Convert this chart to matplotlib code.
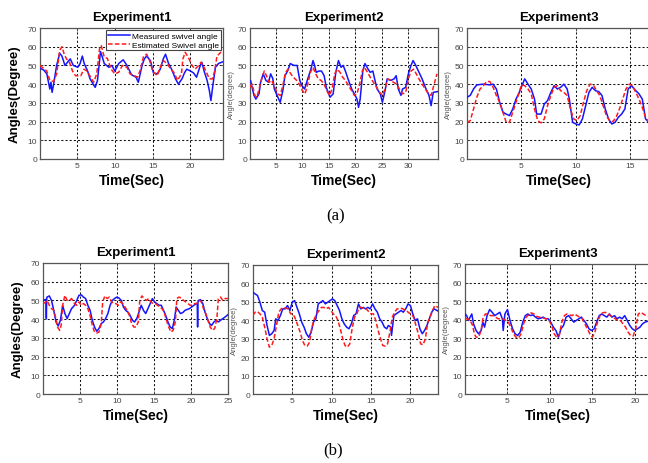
import matplotlib
matplotlib.use('Agg')
import matplotlib.pyplot as plt

# --- DADOS (tempo, ângulo) ---
a1_meas = [(0.1, 48.5), (0.6, 47.5), (1.0, 45.5), (1.4, 37.4), (1.55, 41), (1.7, 35.6), (1.9, 40), (2.3, 50),
           (2.7, 56.5), (3.0, 55), (3.4, 50), (3.8, 52), (4.1, 53.5), (4.5, 50), (5.1, 49), (5.4, 51), (5.7, 55),
           (5.95, 51), (6.4, 47), (6.7, 43), (7.2, 39.5), (7.4, 38.3), (7.7, 42), (8.1, 57.4), (8.3, 55), (8.6, 51),
           (9.2, 49), (9.6, 50), (10.0, 47), (10.5, 51), (11.1, 53), (11.6, 50), (12.2, 45), (12.8, 43.7), (13.1, 41),
           (13.6, 50), (13.9, 53.5), (14.2, 55), (14.7, 52.6), (15.1, 46), (15.6, 45.5), (16.0, 48), (16.4, 53.5),
           (16.7, 56), (17.1, 51), (17.5, 48), (18.0, 43), (18.4, 40), (18.9, 43), (19.2, 46), (19.5, 48), (20.0, 47),
           (20.4, 46), (20.8, 43.7), (21.3, 50), (21.5, 51.7), (21.8, 47), (22.2, 42), (22.5, 36.5), (22.7, 31.2),
           (22.95, 39), (23.3, 49), (23.7, 51), (24.3, 52)]
a1_est = [(0.1, 50), (1.0, 47), (1.4, 42), (1.9, 41.4), (2.3, 45.5), (2.7, 58), (3.0, 60), (3.3, 56), (3.6, 53.5),
          (4.0, 51.7), (4.4, 47), (4.8, 44.5), (5.5, 44.5), (5.9, 48), (6.3, 47), (6.8, 43.7), (7.2, 41), (7.6, 45.5),
          (8.0, 59.7), (8.2, 60.6), (8.6, 54.4), (9.0, 53.8), (9.5, 48), (10.0, 45.5), (10.5, 46.3), (11.0, 50),
          (11.6, 49), (12.0, 45.5), (12.6, 44.5), (13.0, 43.7), (13.4, 48), (13.8, 55), (14.2, 56), (14.6, 52.6),
          (15.0, 47), (15.6, 44.5), (16.0, 49), (16.4, 52.6), (16.9, 51), (17.4, 48), (17.8, 46.3), (18.3, 42),
          (18.8, 45.5), (19.0, 53.5), (19.3, 57), (19.7, 54.4), (20.2, 50), (20.6, 48), (21.1, 50), (21.4, 51.7),
          (21.8, 49), (22.2, 45.5), (22.5, 42.8), (22.9, 42.8), (23.2, 47), (23.5, 55), (24.0, 57), (24.3, 56)]

a2_meas = [(0.0, 41), (0.2, 42), (0.85, 34), (1.2, 32), (1.8, 34.8), (2.1, 41), (2.6, 45.5), (3.1, 42), (3.6, 41),
           (4.0, 45.5), (4.4, 43), (4.7, 37.4), (5.2, 34), (5.8, 30.3), (6.3, 36.5), (6.7, 44.5), (7.2, 47), (7.7, 51),
           (8.4, 50), (9.0, 50), (9.5, 42), (9.9, 39.2), (10.4, 37.4), (11.0, 42.8), (11.6, 48), (12.0, 52.6),
           (12.3, 50), (12.6, 46.3), (13.1, 47), (13.6, 47), (14.1, 44.5), (14.5, 38.3), (15.2, 33), (15.8, 34.8),
           (16.3, 46.3), (16.8, 52.6), (17.3, 49), (17.7, 50), (18.2, 46.3), (18.7, 42), (19.3, 37.4), (19.8, 34.8),
           (20.3, 32), (20.6, 27.6), (20.9, 32), (21.4, 47), (21.8, 51), (22.4, 48), (22.8, 46.3), (23.3, 47),
           (23.7, 42), (24.1, 37.4), (24.7, 34.8), (25.1, 30.3), (25.6, 36.5), (26.0, 42.8), (26.7, 42), (27.3, 42.8),
           (27.7, 44.5), (28.1, 37.4), (28.6, 34), (28.9, 37.4), (29.5, 38.3), (30.0, 45.5), (30.5, 50), (30.9, 52.6),
           (31.4, 50), (31.9, 47), (32.6, 42.8), (33.2, 38.3), (33.9, 34), (34.3, 28.5), (34.7, 35.6), (35.5, 36)]
a2_est = [(0.0, 38.3), (0.5, 40), (1.0, 34), (1.4, 33), (1.9, 38.3), (2.3, 42.8), (2.8, 47), (3.2, 44.5), (3.7, 41),
          (4.2, 42), (4.8, 38.3), (5.3, 34.8), (5.8, 34), (6.3, 39.2), (6.8, 46.3), (7.3, 48), (7.8, 45.5), (8.3, 43.7),
          (8.9, 42), (9.4, 40), (10.0, 36.5), (10.5, 34.8), (11.0, 40), (11.5, 46.3), (12.0, 49), (12.5, 45.5),
          (13.0, 42.8), (13.5, 42), (14.1, 40), (14.6, 36.5), (15.1, 34), (15.6, 37.4), (16.1, 45.5), (16.6, 48),
          (17.1, 46.3), (17.6, 43.7), (18.1, 42), (18.7, 39.2), (19.3, 36.5), (19.8, 34), (20.3, 34.8), (20.8, 40),
          (21.3, 47), (21.7, 49), (22.3, 46.3), (22.8, 43.7), (23.4, 41), (24.0, 38.3), (24.6, 35.6), (25.1, 34),
          (25.6, 37.4), (26.1, 42.8), (26.7, 42), (27.2, 41), (27.8, 40), (28.3, 37.4), (28.9, 34.8), (29.5, 35.6),
          (30.0, 42.8), (30.5, 47), (31.0, 48), (31.5, 45.5), (32.0, 42.8), (32.6, 40), (33.2, 37.4), (33.8, 34.8),
          (34.3, 34), (34.8, 39.2), (35.4, 45.5)]

a3_meas = [(0.0, 33), (0.3, 34), (0.6, 37.4), (0.9, 39.6), (1.5, 40), (2.1, 39.6), (2.4, 40), (2.7, 37.4), (3.0, 30.3),
           (3.3, 25), (3.6, 24), (3.9, 23.2), (4.2, 26.7), (4.5, 32), (4.8, 35.6), (5.1, 40), (5.3, 42.8), (5.6, 40),
           (5.9, 37.4), (6.2, 32), (6.4, 24), (6.8, 24), (7.1, 29.4), (7.4, 31.2), (7.7, 35.6), (8.0, 39.2),
           (8.3, 37.4), (8.6, 38.3), (8.9, 40), (9.2, 37.4), (9.4, 32), (9.7, 19.6), (10.0, 18.7), (10.3, 18.2),
           (10.6, 21.4), (10.9, 28.5), (11.2, 35.6), (11.5, 38.3), (11.8, 36.5), (12.1, 36), (12.4, 33.9), (12.7, 26.7),
           (13.0, 21.4), (13.3, 18.7), (13.6, 19.6), (13.9, 22.3), (14.2, 24), (14.5, 26.7), (14.8, 37.4), (15.1, 39.2),
           (15.5, 36.5), (15.8, 34.8), (16.1, 32), (16.4, 21.4), (16.8, 19)]
a3_est = [(0.0, 19.6), (0.3, 20.5), (0.6, 26.7), (0.9, 33), (1.2, 37.4), (1.5, 39.2), (1.8, 41.4), (2.1, 41.4),
          (2.4, 38.3), (2.7, 33.9), (3.0, 30.3), (3.3, 25), (3.6, 19.6), (3.9, 19.6), (4.2, 25), (4.5, 30.3),
          (4.8, 35.6), (5.0, 39.6), (5.3, 39.2), (5.6, 37.4), (5.9, 34.8), (6.2, 26.7), (6.5, 20.5), (6.8, 19.3),
          (7.1, 21.4), (7.4, 28.5), (7.7, 33.9), (8.0, 38.3), (8.3, 39.2), (8.6, 36.5), (8.9, 35.6), (9.2, 33.9),
          (9.5, 26.7), (9.8, 21.4), (10.1, 20.5), (10.4, 23.2), (10.7, 30.3), (11.0, 36.5), (11.3, 40), (11.6, 39.6),
          (11.9, 36.5), (12.2, 33.9), (12.5, 28.5), (12.8, 23.2), (13.1, 20.5), (13.4, 20), (13.7, 22.3), (14.0, 26.7),
          (14.3, 32), (14.6, 37.4), (14.9, 40), (15.2, 39.2), (15.5, 35.6), (15.8, 32), (16.1, 27.6), (16.4, 22.3),
          (16.8, 19)]

b1_meas = [(0.05, 50), (0.3, 50.4), (0.45, 50.5), (0.5, 40.3), (0.55, 51), (0.6, 51.8), (0.9, 52.4), (1.2, 50),
           (1.5, 44.7), (1.8, 38.5), (2.1, 36.3), (2.4, 39.4), (2.7, 47.4), (3.0, 43), (3.3, 40.3), (3.6, 43),
           (3.9, 45.6), (4.3, 47.4), (4.6, 50), (4.9, 52.7), (5.2, 53), (5.5, 51.8), (5.8, 51), (6.1, 47.4),
           (6.4, 44.7), (6.7, 39.4), (7.0, 35.8), (7.3, 33.5), (7.6, 35), (7.9, 37.6), (8.2, 38.5), (8.5, 40.3),
           (8.8, 43), (9.1, 47.4), (9.4, 50), (9.7, 51), (10.0, 51.8), (10.3, 51.3), (10.6, 50), (10.9, 46.5),
           (11.2, 44.7), (11.5, 43.8), (11.8, 42), (12.1, 39.4), (12.4, 38.5), (12.7, 40.3), (13.0, 43.8), (13.3, 47.4),
           (13.6, 44.7), (13.9, 43), (14.2, 45.6), (14.5, 48.3), (14.8, 51), (15.1, 49.2), (15.4, 48.3), (15.7, 47.4),
           (16.0, 47.4), (16.3, 44.7), (16.6, 42), (16.9, 38.5), (17.2, 35.8), (17.5, 35), (17.8, 40.3), (18.0, 46.5),
           (18.3, 44.7), (18.6, 43), (18.9, 43.5), (19.2, 44.7), (19.5, 45.2), (19.8, 45.6), (20.1, 46.5), (20.4, 47.4),
           (20.7, 48.3), (20.85, 48.5), (20.9, 35.8), (20.95, 49), (21.0, 50), (21.3, 50.4), (21.6, 48.3), (21.9, 43.8),
           (22.2, 40.3), (22.5, 37.6), (22.8, 36.7), (23.1, 38.5), (23.4, 39.4), (23.7, 38.5), (24.0, 39.4),
           (24.3, 40.3), (24.6, 41.1), (25.0, 42.4)]
b1_est = [(0.05, 48.3), (0.3, 48.8), (0.6, 50), (0.9, 47.4), (1.2, 45.6), (1.5, 44.7), (1.8, 40.3), (2.0, 35.8),
          (2.3, 34), (2.5, 36.7), (2.7, 47.4), (3.0, 52.7), (3.3, 50), (3.6, 50), (3.9, 51), (4.3, 48.3), (4.6, 47.4),
          (4.9, 49.2), (5.2, 47.4), (5.5, 48.3), (5.8, 47.4), (6.1, 45.6), (6.4, 42), (6.7, 36.7), (7.0, 33.1),
          (7.3, 32.6), (7.6, 33.1), (7.9, 37.6), (8.1, 49.2), (8.4, 52.4), (8.7, 51), (9.0, 51.8), (9.3, 49.2),
          (9.6, 48.3), (9.9, 48.3), (10.2, 47.4), (10.5, 49.2), (10.8, 48.3), (11.1, 46.5), (11.4, 44.7), (11.7, 42),
          (12.0, 37.6), (12.3, 35.8), (12.6, 35.8), (12.9, 38.5), (13.1, 50), (13.4, 52.4), (13.7, 51), (14.0, 50),
          (14.3, 51), (14.6, 49.2), (14.9, 48.3), (15.2, 48.3), (15.5, 47.4), (15.8, 46.5), (16.1, 45.6), (16.4, 43.8),
          (16.7, 39.4), (17.0, 35.8), (17.3, 33.1), (17.6, 34), (17.9, 38.5), (18.1, 51), (18.4, 51.8), (18.7, 51.3),
          (19.0, 50), (19.3, 49.2), (19.6, 48.3), (19.9, 47.4), (20.2, 47.4), (20.5, 48.3), (20.8, 48.3), (21.1, 50),
          (21.4, 49.2), (21.7, 45.6), (22.0, 43), (22.3, 39.4), (22.6, 35.8), (22.9, 34), (23.2, 35), (23.5, 40.3),
          (23.7, 51), (24.0, 51.8), (24.3, 50), (24.6, 51), (25.0, 51)]

b2_meas = [(0.0, 55.2), (0.3, 54.3), (0.6, 53.4), (0.9, 49.8), (1.2, 45.3), (1.5, 44.4), (1.8, 37.2), (2.1, 31.8),
           (2.4, 32.7), (2.7, 34.5), (2.9, 40.8), (3.2, 39.9), (3.5, 42.6), (3.8, 46.2), (4.1, 46.2), (4.4, 48),
           (4.7, 45.3), (5.0, 49.8), (5.3, 50.7), (5.6, 47), (5.9, 43.5), (6.2, 39), (6.5, 36.3), (6.8, 32.7),
           (7.1, 30.8), (7.4, 33.6), (7.7, 39), (8.0, 40.8), (8.3, 48.9), (8.6, 49.8), (8.9, 50.7), (9.2, 48.9),
           (9.5, 49.8), (9.8, 50.7), (10.1, 51.6), (10.4, 50.7), (10.7, 48), (11.0, 45.3), (11.3, 40.8), (11.6, 38),
           (11.9, 36.3), (12.2, 35.4), (12.5, 38), (12.8, 42.6), (13.1, 43.5), (13.4, 48.9), (13.7, 46.2), (14.0, 47),
           (14.3, 46.2), (14.6, 47), (14.9, 46.2), (15.2, 48.9), (15.5, 46.2), (15.8, 44.4), (16.1, 40.8), (16.4, 39),
           (16.7, 36.3), (17.0, 35.4), (17.2, 37.2), (17.5, 36.3), (17.6, 31.8), (17.9, 42.6), (18.2, 43.5),
           (18.5, 44.4), (18.8, 45.3), (19.1, 44.4), (19.4, 46.2), (19.7, 48.9), (20.0, 48), (20.3, 43.5), (20.6, 39.9),
           (20.9, 40.8), (21.2, 35.4), (21.5, 32.7), (21.8, 34.5), (22.1, 37.2), (22.4, 40.8), (22.7, 44.4),
           (23.0, 46.2), (23.5, 45)]
b2_est = [(0.0, 42.6), (0.3, 44.4), (0.6, 44.7), (0.9, 43.5), (1.2, 41.7), (1.5, 36.3), (1.8, 30), (2.1, 25.4),
          (2.4, 26.3), (2.7, 30), (3.0, 37.2), (3.3, 44.4), (3.6, 46.2), (3.9, 47), (4.2, 46.5), (4.5, 46.2),
          (4.8, 43.5), (5.1, 43.5), (5.4, 40.8), (5.7, 37.2), (6.0, 33.6), (6.3, 29), (6.6, 26.3), (6.9, 26),
          (7.2, 28.1), (7.5, 36.3), (7.8, 40.8), (8.1, 43.5), (8.4, 45.3), (8.7, 47), (9.0, 47), (9.3, 46.2), (9.6, 47),
          (9.9, 45.3), (10.2, 43.5), (10.5, 42.6), (10.8, 39.9), (11.1, 35.4), (11.4, 30), (11.7, 26.3), (12.0, 25.4),
          (12.3, 27.2), (12.6, 35.4), (12.9, 41.7), (13.2, 43.5), (13.5, 47), (13.8, 47), (14.1, 46.2), (14.4, 46.2),
          (14.7, 44.7), (15.0, 43.5), (15.3, 43.5), (15.6, 39.9), (15.9, 34.5), (16.2, 30), (16.5, 26.3), (16.8, 26),
          (17.1, 27.2), (17.4, 33.6), (17.7, 41.7), (18.0, 44.4), (18.3, 46.2), (18.6, 46.2), (18.9, 46.5),
          (19.2, 45.8), (19.5, 45.3), (19.8, 44), (20.1, 43.5), (20.4, 41.7), (20.7, 37.2), (21.0, 32.7), (21.3, 27.2),
          (21.6, 26.7), (21.9, 30), (22.2, 39), (22.5, 41.7), (22.8, 45.3), (23.1, 48), (23.5, 47)]

b3_meas = [(0.0, 43.1), (0.2, 42.2), (0.4, 39.6), (0.6, 41.4), (0.8, 43.1), (1.0, 37.8), (1.3, 34.2), (1.6, 32.4),
           (1.9, 34.2), (2.1, 38.7), (2.3, 36), (2.6, 42.2), (2.9, 45.5), (3.2, 44), (3.5, 42.2), (3.8, 43.1),
           (4.1, 44), (4.4, 40.5), (4.5, 34.2), (4.7, 43.1), (5.0, 45.5), (5.3, 39.6), (5.6, 35.1), (5.9, 32.4),
           (6.2, 31.5), (6.5, 33.3), (6.8, 38.7), (7.1, 42.2), (7.4, 43.1), (7.7, 42.2), (8.0, 42.6), (8.3, 41.4),
           (8.6, 40.5), (8.9, 40.8), (9.2, 41.4), (9.5, 40.5), (9.8, 40.5), (10.1, 38.7), (10.4, 36), (10.7, 34.2),
           (11.0, 30.6), (11.3, 35.1), (11.6, 36.9), (11.9, 41.4), (12.2, 42.2), (12.5, 40.5), (12.8, 38.7),
           (13.1, 39.6), (13.4, 40.5), (13.7, 41.4), (14.0, 39.6), (14.3, 37.8), (14.6, 35.1), (14.9, 34.2),
           (15.2, 35.1), (15.5, 38.7), (15.8, 42.2), (16.1, 43.1), (16.4, 42.2), (16.7, 41.4), (17.0, 43.1),
           (17.3, 41.4), (17.6, 42.2), (17.9, 40.5), (18.2, 41.4), (18.5, 40.5), (18.8, 42.2), (19.1, 39.6),
           (19.4, 36.9), (19.7, 35.1), (20.0, 34.2), (20.3, 35.1), (20.6, 36), (20.9, 37.8), (21.2, 38.7), (21.8, 39.6)]
b3_est = [(0.0, 40.5), (0.3, 40.5), (0.6, 39.6), (0.9, 36.9), (1.1, 32.4), (1.3, 30.6), (1.6, 30.6), (1.9, 34.2),
          (2.1, 40.5), (2.4, 43.1), (2.7, 43.1), (3.0, 42.2), (3.3, 42.2), (3.6, 41.4), (3.9, 40.5), (4.2, 40.5),
          (4.5, 40.5), (4.8, 39.6), (5.1, 38.7), (5.4, 36), (5.7, 32.4), (6.0, 30.6), (6.3, 30.1), (6.6, 32.4),
          (6.9, 37.8), (7.2, 41.4), (7.5, 42.6), (7.8, 43.7), (8.1, 43.1), (8.4, 41.9), (8.7, 41.4), (9.0, 41.4),
          (9.3, 40.8), (9.6, 40.5), (9.9, 39.6), (10.2, 36.9), (10.5, 32.4), (10.8, 30.6), (11.1, 31.5), (11.4, 38.7),
          (11.7, 42.2), (12.0, 43.1), (12.3, 42.6), (12.6, 42.2), (12.9, 43.1), (13.2, 42.2), (13.5, 41.4),
          (13.8, 40.5), (14.1, 37.8), (14.4, 35.1), (14.7, 32.4), (15.0, 30.6), (15.3, 33.3), (15.6, 38.7),
          (15.9, 42.2), (16.2, 43.7), (16.5, 44), (16.8, 43.1), (17.1, 42.2), (17.4, 41.4), (17.7, 40.5), (18.0, 39.6),
          (18.3, 39.6), (18.6, 37.8), (18.9, 36), (19.2, 33.3), (19.5, 31.5), (19.8, 31.2), (20.1, 35.1), (20.4, 43.1),
          (20.7, 44), (21.0, 43.1), (21.3, 42.2), (21.8, 41.9)]

titulos = ['Experiment1', 'Experiment2', 'Experiment3']
rotulo_legenda = ['Measured swivel angle', 'Estimated Swivel angle']
yticks = [0, 10, 20, 30, 40, 50, 60, 70]

# --- FIGURA ---
W, H = 648, 464
fig = plt.figure(figsize=(W / 100, H / 100), dpi=100)
fig.patch.set_facecolor('white')

FONTE = 'Liberation Sans'
AZUL = '#1414ff'
VERMELHO = '#ff1a1a'
CINZA = '#444444'

def px(l, t, r, b):
    return [l / W, 1 - b / H, (r - l) / W, (b - t) / H]

# posições em pixels: (esq, topo, dir, baixo), limites de x e ticks
paineis = [
    (a1_meas, a1_est, titulos[0], px(40, 29, 223, 160), (0.1, 24.3), [5, 10, 15, 20], True),
    (a2_meas, a2_est, titulos[1], px(250, 29, 438, 160), (0.1, 35.6), [5, 10, 15, 20, 25, 30], False),
    (a3_meas, a3_est, titulos[2], px(467, 29, 651, 160), (0.0, 16.9), [5, 10, 15], False),
    (b1_meas, b1_est, titulos[0], px(43, 264, 228, 395), (0.05, 25.0), [5, 10, 15, 20, 25], True),
    (b2_meas, b2_est, titulos[1], px(253, 266, 438, 395), (0.02, 23.5), [5, 10, 15, 20], False),
    (b3_meas, b3_est, titulos[2], px(465, 265, 651, 395), (0.0, 21.9), [5, 10, 15, 20], False),
]

for i, (med, est, titulo, pos, xlim, xt, grande) in enumerate(paineis):
    ax = fig.add_axes(pos)
    tm, vm = zip(*med)
    te, ve = zip(*est)
    ax.plot(tm, vm, '-', color=AZUL, lw=1.1, label=rotulo_legenda[0], zorder=3)
    ax.plot(te, ve, '--', color=VERMELHO, lw=1.1, dashes=(3, 1.5), label=rotulo_legenda[1], zorder=3)

    ax.set_xlim(*xlim)
    ax.set_ylim(0, 70)
    ax.set_xticks(xt)
    ax.set_yticks(yticks)
    ax.grid(True, color='#111111', linestyle=(0, (2, 2)), lw=0.75)
    ax.tick_params(direction='in', length=2, width=0.6, top=True, right=True,
                   labelsize=6, labelcolor=CINZA, colors=CINZA, pad=2)
    for lab in ax.get_xticklabels() + ax.get_yticklabels():
        lab.set_family(FONTE)
    for s in ax.spines.values():
        s.set_color('#555555')
        s.set_linewidth(0.9)

    ax.set_title(titulo, fontsize=9.5, fontweight='bold', family=FONTE, pad=6)
    ax.set_xlabel('Time(Sec)', fontsize=10, fontweight='bold', family=FONTE, labelpad=3)
    if grande:
        ax.set_ylabel('Angles(Degree)', fontsize=9.5, fontweight='bold', family=FONTE, labelpad=5)
    else:
        ax.set_ylabel('Angle(degree)', fontsize=5.5, color='#555555', family=FONTE, labelpad=2)

    if i == 0:
        leg = ax.legend(loc='upper right', prop={'family': FONTE, 'size': 6}, fancybox=False,
                        framealpha=1, edgecolor='#444444', borderaxespad=0.25, borderpad=0.2,
                        labelspacing=0.15, handlelength=2.6, handletextpad=0.3)
        leg.get_frame().set_linewidth(0.8)

fig.text(336 / W, 1 - 216 / H, '(a)', ha='center', va='center', fontsize=12, family='Liberation Serif')
fig.text(333 / W, 1 - 450 / H, '(b)', ha='center', va='center', fontsize=12, family='Liberation Serif')

fig.savefig('out.png', dpi=100, facecolor='white')
